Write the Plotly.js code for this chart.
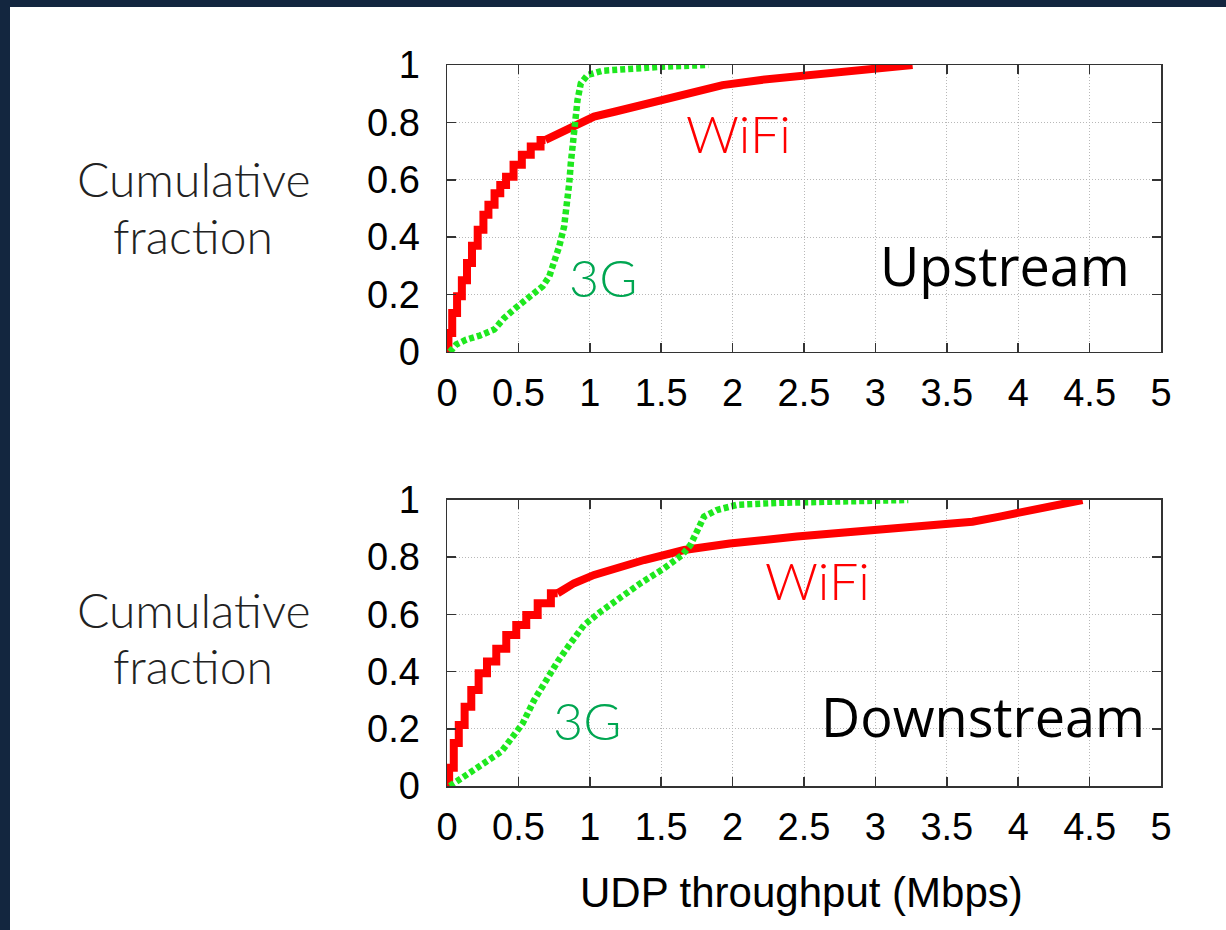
<!DOCTYPE html>
<html>
<head>
<meta charset="utf-8">
<script src="https://cdn.plot.ly/plotly-3.0.1.min.js"></script>
<style>
  html, body { margin: 0; padding: 0; background: #13263f; width: 1226px; height: 930px; overflow: hidden; }
  #chart { position: absolute; left: 10px; top: 7px; width: 1216px; height: 923px; background: #ffffff; }
</style>
</head>
<body>
<div id="chart"></div>
<script>
// CDF of UDP throughput (Mbps), upstream.
// WiFi: stepped low part followed by the smoother upper part.
const upWifiStepX = [0, 0.02, 0.053, 0.088, 0.12, 0.16, 0.19, 0.24, 0.27, 0.31, 0.356, 0.39, 0.437, 0.495, 0.553, 0.62, 0.69];
const upWifiStepY = [0, 0.066, 0.136, 0.194, 0.25, 0.31, 0.37, 0.426, 0.478, 0.513, 0.553, 0.582, 0.611, 0.652, 0.687, 0.716, 0.739];
const upWifiTailX = [0.69, 0.786, 0.90, 1.03, 1.18, 1.51, 1.93, 2.2, 2.67, 3.0, 3.26];
const upWifiTailY = [0.739, 0.762, 0.788, 0.82, 0.838, 0.878, 0.93, 0.948, 0.97, 0.984, 1.0];
const up3gX = [0.02, 0.065, 0.135, 0.23, 0.33, 0.40, 0.48, 0.577, 0.67, 0.716, 0.75, 0.786, 0.82, 0.844, 0.856, 0.867, 0.884, 0.898, 0.914, 0.937, 0.984, 1.09, 1.27, 1.51, 1.83];
const up3gY = [0, 0.026, 0.043, 0.057, 0.078, 0.118, 0.153, 0.194, 0.229, 0.263, 0.31, 0.368, 0.437, 0.519, 0.588, 0.658, 0.739, 0.797, 0.878, 0.936, 0.965, 0.98, 0.988, 0.994, 1.0];

// CDF of UDP throughput (Mbps), downstream
const downWifiStepX = [0, 0.03, 0.065, 0.1, 0.147, 0.193, 0.25, 0.31, 0.38, 0.45, 0.52, 0.59, 0.68, 0.775];
const downWifiStepY = [0, 0.064, 0.15, 0.213, 0.277, 0.336, 0.394, 0.435, 0.48, 0.528, 0.563, 0.598, 0.639, 0.674];
const downWifiTailX = [0.775, 0.89, 1.03, 1.19, 1.38, 1.66, 1.98, 2.45, 2.94, 3.40, 3.68, 3.87, 4.10, 4.45];
const downWifiTailY = [0.674, 0.709, 0.738, 0.762, 0.79, 0.825, 0.848, 0.872, 0.895, 0.913, 0.924, 0.942, 0.965, 1.0];
const down3gX = [0.02, 0.1, 0.193, 0.286, 0.38, 0.46, 0.53, 0.61, 0.69, 0.775, 0.856, 0.96, 1.077, 1.216, 1.356, 1.52, 1.647, 1.705, 1.75, 1.8, 1.89, 2.03, 2.33, 2.68, 3.23];
const down3gY = [0, 0.027, 0.056, 0.085, 0.12, 0.172, 0.219, 0.3, 0.37, 0.435, 0.493, 0.563, 0.61, 0.662, 0.709, 0.761, 0.808, 0.843, 0.895, 0.942, 0.965, 0.983, 0.99, 0.994, 1.0];

// Axis ticks
const xTickVals = [0, 0.5, 1, 1.5, 2, 2.5, 3, 3.5, 4, 4.5, 5];
const xTickText = ['0', '0.5', '1', '1.5', '2', '2.5', '3', '3.5', '4', '4.5', '5'];
const yTickVals = [0, 0.2, 0.4, 0.6, 0.8, 1];
const yTickText = ['0', '0.2', '0.4', '0.6', '0.8', '1'];

const RED = '#ff0000';
const GREEN = '#1ee81e';
const LABEL_GREEN = '#00a651';

function wifiTrace(x, y, xa, ya, shape) {
  return { x: x, y: y, xaxis: xa, yaxis: ya, type: 'scatter', mode: 'lines',
           line: { color: RED, width: 8, shape: shape }, hoverinfo: 'skip' };
}
function g3Trace(x, y, xa, ya) {
  return { x: x, y: y, xaxis: xa, yaxis: ya, type: 'scatter', mode: 'lines',
           line: { color: GREEN, width: 6.5, dash: '5px,3px' }, hoverinfo: 'skip' };
}

const traces = [
  wifiTrace(upWifiStepX, upWifiStepY, 'x', 'y', 'hvh'),
  wifiTrace(upWifiTailX, upWifiTailY, 'x', 'y', 'linear'),
  g3Trace(up3gX, up3gY, 'x', 'y'),
  wifiTrace(downWifiStepX, downWifiStepY, 'x2', 'y2', 'hvh'),
  wifiTrace(downWifiTailX, downWifiTailY, 'x2', 'y2', 'linear'),
  g3Trace(down3gX, down3gY, 'x2', 'y2')
];

const tickFont = { family: 'Liberation Sans, Arial, sans-serif', size: 38, color: '#000' };

function xAxis(anchor) {
  return {
    anchor: anchor, domain: [0, 1], range: [0, 5], tickvals: xTickVals, ticktext: xTickText,
    ticks: 'inside', ticklen: 9, tickwidth: 1.5, tickcolor: '#333',
    showline: true, linecolor: '#333', linewidth: 1.5, mirror: 'ticks',
    showgrid: true, gridcolor: '#b8b8b8', gridwidth: 1, griddash: '1px,2px',
    zeroline: false, tickfont: tickFont, ticklabelstandoff: 7, fixedrange: true
  };
}
function yAxis(anchor, domain) {
  return {
    anchor: anchor, domain: domain, range: [0, 1], tickvals: yTickVals, ticktext: yTickText,
    ticks: 'inside', ticklen: 9, tickwidth: 1.5, tickcolor: '#333',
    showline: true, linecolor: '#333', linewidth: 1.5, mirror: 'ticks',
    showgrid: true, gridcolor: '#b8b8b8', gridwidth: 1, griddash: '1px,2px',
    zeroline: false, tickfont: tickFont, ticklabelstandoff: 18, fixedrange: true
  };
}

const thinFont = (size, color) => ({ family: 'Lato, Noto Sans, sans-serif', size: size, color: color, weight: 300 });
const boldLabel = { family: 'Open Sans, Noto Sans, sans-serif', size: 54, color: '#000' };

function note(text, x, y, font) {
  return { text: text, xref: 'paper', yref: 'paper', x: x, y: y,
           xanchor: 'center', yanchor: 'middle', showarrow: false, font: font };
}

const annotations = [
  note('Cumulative', -0.3557, 0.843, thinFont(48, '#222')),
  note('fraction', -0.3557, 0.763, thinFont(48, '#222')),
  note('Cumulative', -0.3557, 0.2443, thinFont(48, '#222')),
  note('fraction', -0.3557, 0.1667, thinFont(48, '#222')),
  note('WiFi', 0.4076, 0.9057, thinFont(52, RED)),
  note('3G', 0.2185, 0.706, thinFont(52, LABEL_GREEN)),
  note('WiFi', 0.5196, 0.2857, thinFont(52, RED)),
  note('3G', 0.196, 0.0915, thinFont(52, LABEL_GREEN)),
  note('Upstream', 0.7815, 0.7228, boldLabel),
  note('Downstream', 0.7507, 0.0971, boldLabel),
  note('UDP throughput (Mbps)', 0.4958, -0.1484, { family: 'Liberation Sans, Arial, sans-serif', size: 42, color: '#000' })
];

const layout = {
  width: 1216, height: 923,
  margin: { l: 437, r: 65, t: 58, b: 144, pad: 0 },
  paper_bgcolor: '#ffffff', plot_bgcolor: '#ffffff',
  showlegend: false,
  xaxis: xAxis('y'),
  yaxis: yAxis('x', [0.602, 1]),
  xaxis2: xAxis('y2'),
  yaxis2: yAxis('x2', [0, 0.3967]),
  annotations: annotations
};

Plotly.newPlot('chart', traces, layout, { staticPlot: true, displayModeBar: false });
</script>
</body>
</html>
